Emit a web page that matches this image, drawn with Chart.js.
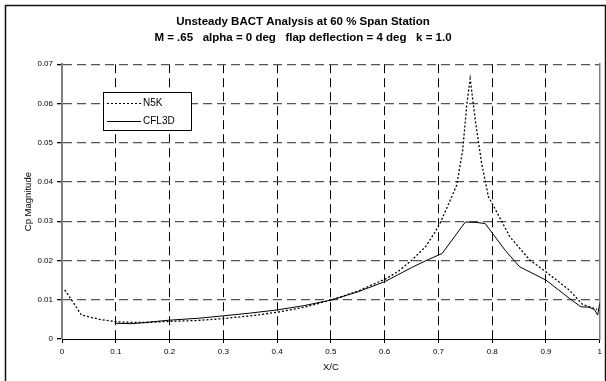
<!DOCTYPE html>
<html>
<head>
<meta charset="utf-8">
<script src="https://cdn.jsdelivr.net/npm/chart.js@4/dist/chart.umd.min.js"></script>
<style>
  html, body { margin: 0; padding: 0; background: #fff; }
  #wrap { width: 606px; height: 381px; }
</style>
</head>
<body>
<div id="wrap"><canvas id="cpChart" width="606" height="381"></canvas></div>
<script>
// ---- data ----
const n5kX = [0.005, 0.02, 0.036, 0.07, 0.1, 0.13, 0.16, 0.2, 0.25, 0.3, 0.35, 0.4, 0.45, 0.5,
  0.55, 0.6, 0.624, 0.65, 0.676, 0.694, 0.704, 0.722, 0.734, 0.745, 0.753, 0.759, 0.769,
  0.78, 0.793, 0.8, 0.833, 0.87, 0.9, 0.943, 0.968, 0.985, 0.995];
const n5kY = [0.0125, 0.0095, 0.0061, 0.0050, 0.0044, 0.0042, 0.0042, 0.0045, 0.0047, 0.0052,
  0.0059, 0.0068, 0.0081, 0.0099, 0.0122, 0.0152, 0.0171, 0.0200, 0.0235, 0.0273, 0.0298,
  0.0354, 0.0392, 0.048, 0.060, 0.0663, 0.0553, 0.045, 0.0362, 0.0345, 0.026, 0.0201,
  0.0171, 0.0125, 0.0088, 0.0080, 0.0075];

const cflX = [0.1, 0.13, 0.2, 0.255, 0.3, 0.35, 0.4, 0.45, 0.5, 0.55, 0.6, 0.624, 0.65, 0.679,
  0.707, 0.75, 0.77, 0.787, 0.824, 0.851, 0.9, 0.943, 0.965, 0.98, 0.99, 0.996, 1.0];
const cflY = [0.0040, 0.0039, 0.0048, 0.0053, 0.0059, 0.0066, 0.0074, 0.0085, 0.0099, 0.0120,
  0.0146, 0.0163, 0.0182, 0.0201, 0.0218, 0.0298, 0.0297, 0.0294, 0.0226, 0.0184, 0.0150,
  0.0104, 0.0082, 0.0081, 0.0075, 0.0061, 0.0091];

const titleLines = ['Unsteady BACT Analysis at 60 % Span Station',
  'M = .65   alpha = 0 deg   flap deflection = 4 deg   k = 1.0'];
const seriesNames = ['N5K', 'CFL3D'];

const toPts = (xs, ys) => xs.map((x, i) => ({ x: x, y: ys[i] }));
const FONT = 'Liberation Sans, Arial, sans-serif';

// outer frame + legend box
const framePlugin = {
  id: 'frame',
  beforeDraw(chart) {
    const c = chart.ctx;
    c.save();
    c.fillStyle = '#fff';
    c.fillRect(0, 0, chart.width, chart.height);
    c.strokeStyle = '#111';
    c.lineWidth = 1.5;
    c.strokeRect(5.5, 5.5, 600, 400);
    c.restore();
  },
  afterDraw(chart) {
    const c = chart.ctx;
    c.save();
    c.fillStyle = '#fff';
    c.fillRect(103, 92, 89, 38);
    c.strokeStyle = '#000';
    c.lineWidth = 1;
    c.strokeRect(103.5, 92.5, 88, 38);
    c.beginPath();
    c.setLineDash([2, 2]);
    c.moveTo(107, 103.5); c.lineTo(141, 103.5);
    c.stroke();
    c.beginPath();
    c.setLineDash([]);
    c.moveTo(107, 121.5); c.lineTo(141, 121.5);
    c.stroke();
    c.fillStyle = '#000';
    c.font = '10px ' + FONT;
    c.textBaseline = 'middle';
    c.fillText(seriesNames[0], 143, 103);
    c.fillText(seriesNames[1], 143, 121.5);
    c.restore();
  }
};

new Chart(document.getElementById('cpChart'), {
  type: 'line',
  data: {
    datasets: [
      {
        label: seriesNames[0],
        data: toPts(n5kX, n5kY),
        borderColor: '#000',
        borderWidth: 1.3,
        borderDash: [2, 2],
        pointRadius: 0,
        tension: 0
      },
      {
        label: seriesNames[1],
        data: toPts(cflX, cflY),
        borderColor: '#000',
        borderWidth: 1,
        pointRadius: 0,
        tension: 0
      }
    ]
  },
  options: {
    responsive: false,
    animation: false,
    layout: { padding: { left: 0, right: 0, top: 0, bottom: 0 } },
    plugins: {
      legend: { display: false },
      tooltip: { enabled: false },
      title: {
        display: true,
        text: titleLines,
        color: '#000',
        font: { family: FONT, size: 11.5, weight: 'bold', lineHeight: 1.4 },
        padding: { top: 14, bottom: 18 }
      }
    },
    scales: {
      x: {
        type: 'linear',
        min: 0, max: 1,
        afterFit: s => { s.height = 42; },
        ticks: {
          stepSize: 0.1,
          color: '#000',
          padding: 4,
          font: { family: FONT, size: 8 },
          maxRotation: 0,
          callback: v => Math.round(v * 10) / 10
        },
        grid: {
          color: ctx => (ctx.tick && (ctx.tick.value === 0 || ctx.tick.value === 1)) ? 'rgba(0,0,0,0)' : '#000',
          lineWidth: 1,
          tickColor: '#000',
          tickLength: 4
        },
        border: { display: true, color: '#000', width: 1, dash: [9, 5] },
        title: {
          display: true,
          text: 'X/C',
          color: '#000',
          font: { family: FONT, size: 9.5 },
          padding: { top: 0, bottom: 8 }
        }
      },
      y: {
        min: 0, max: 0.07,
        afterFit: s => { s.width = 62; },
        ticks: {
          stepSize: 0.01,
          color: '#000',
          padding: 4,
          font: { family: FONT, size: 8 },
          callback: v => Math.round(v * 100) / 100
        },
        grid: {
          color: ctx => (ctx.tick && ctx.tick.value === 0) ? 'rgba(0,0,0,0)' : '#555',
          lineWidth: 1.3,
          tickColor: '#000',
          tickLength: 5
        },
        border: { display: true, color: '#808080', width: 2, dash: [9, 5] },
        title: {
          display: true,
          text: 'Cp Magnitude',
          color: '#000',
          font: { family: FONT, size: 9.5 },
          padding: { top: 23, bottom: 0 }
        }
      },
      y2: {
        position: 'right',
        min: 0, max: 0.07,
        afterFit: s => { s.width = 2; },
        ticks: { display: false },
        grid: { drawOnChartArea: false, drawTicks: false },
        border: { display: true, color: '#808080', width: 1.5 }
      }
    }
  },
  plugins: [framePlugin]
});
</script>
</body>
</html>
